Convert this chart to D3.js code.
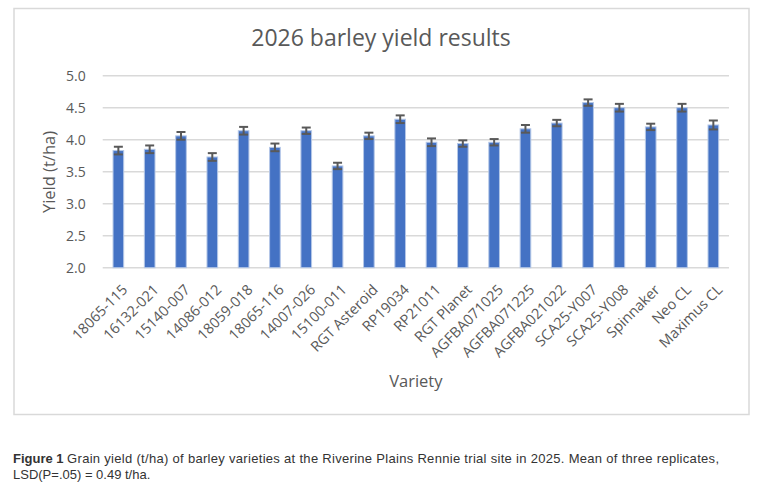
<!DOCTYPE html>
<html>
<head>
<meta charset="utf-8">
<script src="https://cdn.jsdelivr.net/npm/d3@7"></script>
<style>
  body { margin: 0; background: #fff; }
  svg text { font-family: "Open Sans", "Liberation Sans", sans-serif; }
  svg text.caption { font-family: "Liberation Sans", Arial, sans-serif; }
</style>
</head>
<body>
<svg id="chart" width="761" height="495"></svg>
<script>
// variety names on the x axis
const varieties = ["18065-115", "16132-021", "15140-007", "14086-012", "18059-018",
  "18065-116", "14007-026", "15100-011", "RGT Asteroid", "RP19034",
  "RP21011", "RGT Planet", "AGFBA071025", "AGFBA071225", "AGFBA021022",
  "SCA25-Y007", "SCA25-Y008", "Spinnaker", "Neo CL", "Maximus CL"];
// mean grain yield (t/ha)
const yields = [3.83, 3.85, 4.06, 3.73, 4.14, 3.88, 4.14, 3.59, 4.06, 4.32,
  3.96, 3.94, 3.96, 4.17, 4.26, 4.58, 4.50, 4.20, 4.50, 4.23];
// error bar half-widths (t/ha)
const errors = [0.06, 0.06, 0.06, 0.06, 0.06, 0.06, 0.05, 0.05, 0.05, 0.06,
  0.06, 0.05, 0.05, 0.06, 0.05, 0.05, 0.06, 0.05, 0.06, 0.07];
const yTicks = [2.0, 2.5, 3.0, 3.5, 4.0, 4.5, 5.0];

const svg = d3.select("#chart");
const grey = "#595959";

// chart frame
svg.append("rect")
    .attr("x", 14).attr("y", 8.5)
    .attr("width", 735).attr("height", 406)
    .attr("fill", "#fff")
    .attr("stroke", "#d9d9d9").attr("stroke-width", 1.5);

var margin = {top: 75.7, left: 102.7, right: 729, bottom: 267.7};

let x = d3.scaleBand()
    .domain(varieties)
    .range([margin.left, margin.right])
    .paddingInner(0.66).paddingOuter(0.33);
let y = d3.scaleLinear()
    .domain([2, 5])
    .range([margin.bottom, margin.top]);

// gridlines
svg.append("g").selectAll("line")
    .data(yTicks)
    .enter().append("line")
    .attr("x1", margin.left).attr("x2", margin.right)
    .attr("y1", d => y(d)).attr("y2", d => y(d))
    .attr("stroke", "#d9d9d9").attr("stroke-width", 1.5);

// y axis labels
let yAxis = svg.append("g")
    .attr("transform", "translate(" + margin.left + ",0)")
    .call(d3.axisLeft(y).tickValues(yTicks).tickFormat(d3.format(".1f")).tickSize(0).tickPadding(17));
yAxis.select(".domain").remove();
yAxis.selectAll("text")
    .attr("fill", grey)
    .style("font-size", "14px");

// x axis labels
let xAxis = svg.append("g")
    .attr("transform", "translate(0," + margin.bottom + ")")
    .call(d3.axisBottom(x).tickSize(0).tickPadding(0));
xAxis.select(".domain").remove();
xAxis.selectAll("text")
    .attr("fill", grey)
    .style("font-size", "14.5px")
    .attr("text-anchor", "end")
    .attr("dy", "0")
    .attr("transform", "translate(10,23) rotate(-45)");

// bars
svg.append("g").selectAll("rect")
    .data(yields)
    .enter().append("rect")
    .attr("x", (d, i) => x(varieties[i]))
    .attr("y", d => y(d))
    .attr("width", x.bandwidth())
    .attr("height", d => y(2) - y(d))
    .attr("fill", "#4472c4")
    .attr("stroke", "#b4c7e7").attr("stroke-width", 1);

// error bars
let eb = svg.append("g")
    .attr("stroke", grey).attr("stroke-width", 2);
yields.forEach((v, i) => {
  let cx = x(varieties[i]) + x.bandwidth() / 2;
  eb.append("line")
      .attr("x1", cx).attr("x2", cx)
      .attr("y1", y(v - errors[i])).attr("y2", y(v + errors[i]));
  [v - errors[i], v + errors[i]].forEach(e => {
    eb.append("line")
        .attr("x1", cx - 4.5).attr("x2", cx + 4.5)
        .attr("y1", y(e)).attr("y2", y(e));
  });
});

// title
svg.append("text")
    .attr("x", 381).attr("y", 46)
    .attr("text-anchor", "middle")
    .attr("fill", grey)
    .style("font-size", "23px")
    .text("2026 barley yield results");

// axis titles
svg.append("text")
    .attr("transform", "translate(55,172) rotate(-90)")
    .attr("text-anchor", "middle")
    .attr("fill", grey)
    .style("font-size", "16.5px")
    .text("Yield (t/ha)");
svg.append("text")
    .attr("x", (margin.left + margin.right) / 2).attr("y", 387)
    .attr("text-anchor", "middle")
    .attr("fill", grey)
    .style("font-size", "16.5px")
    .text("Variety");

// caption
let fig = svg.append("text")
    .attr("class", "caption")
    .attr("x", 13).attr("y", 463)
    .attr("fill", "#333")
    .attr("font-weight", "bold")
    .style("font-size", "13px")
    .text("Figure 1");
let figW = fig.node().getComputedTextLength();
let line1 = svg.append("text")
    .attr("class", "caption")
    .attr("x", 13 + figW + 3.5).attr("y", 463)
    .attr("fill", "#333")
    .style("font-size", "13px")
    .text("Grain yield (t/ha) of barley varieties at the Riverine Plains Rennie trial site in 2025. Mean of three replicates,");
let want = 719 - (13 + figW + 3.5);
if (line1.node().getComputedTextLength() < want) {
  line1.attr("textLength", want).attr("lengthAdjust", "spacing");
}
svg.append("text")
    .attr("class", "caption")
    .attr("x", 13).attr("y", 479)
    .attr("fill", "#333")
    .style("font-size", "13px")
    .text("LSD(P=.05) = 0.49 t/ha.");
</script>
</body>
</html>
